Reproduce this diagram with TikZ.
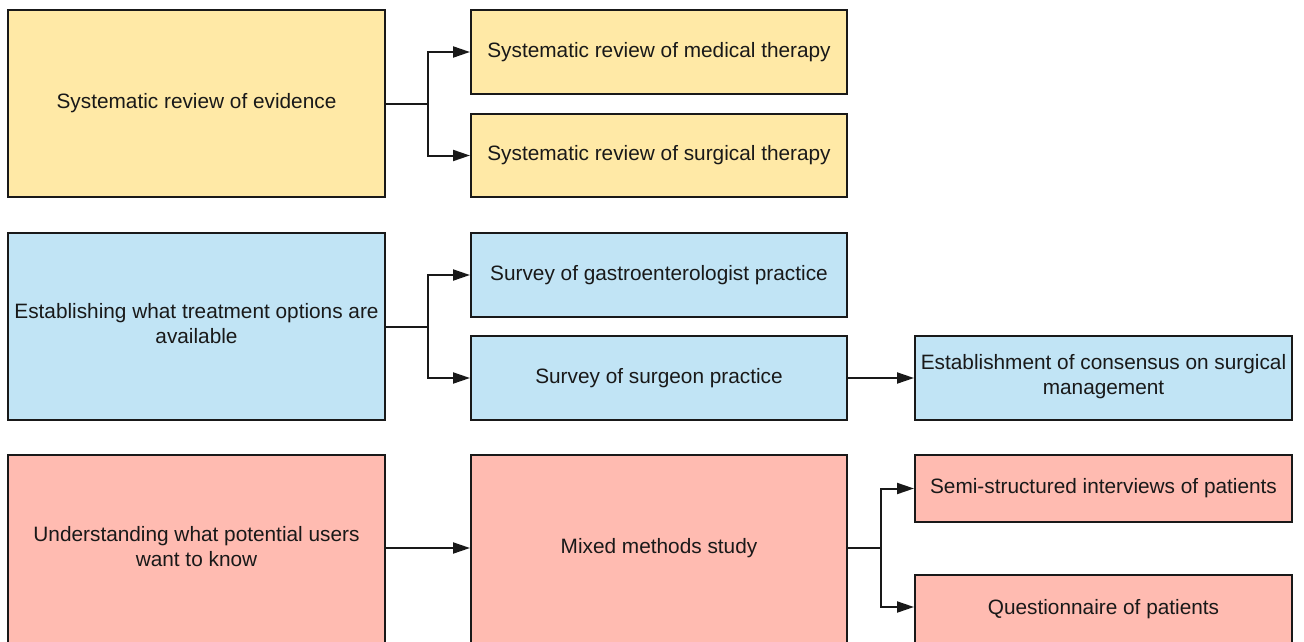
\documentclass[tikz,border=0pt]{standalone}
\usepackage{fontspec}
\setmainfont{Liberation Sans}
\usetikzlibrary{arrows.meta}
\definecolor{ylw}{RGB}{255,233,166}
\definecolor{blu}{RGB}{193,228,245}
\definecolor{rd}{RGB}{255,187,177}
\definecolor{txt}{RGB}{25,25,25}
\begin{document}
\begin{tikzpicture}[x=1pt,y=-1pt,
  lbl/.style={inner sep=0pt,align=center,text=txt,
    font=\fontsize{20.8}{25}\selectfont},
  box/.style={lbl,draw=black!90,line width=2pt},
  big/.style={box,minimum width=377pt,minimum height=187pt},
  mid/.style={box,minimum width=376pt,minimum height=83pt},
  conn/.style={draw=black!90,line width=2pt,-{Triangle[length=17pt,width=11pt]}}]
\useasboundingbox (0,0) rectangle (1304,642);
\clip (0,0) rectangle (1304,642);
% yellow
\node[big,fill=ylw] (yl) at (196.5,103.5) {Systematic review of evidence};
\node[mid,fill=ylw] (ym) at (659,52) {Systematic review of medical therapy};
\node[mid,fill=ylw] (ys) at (659,155.5) {Systematic review of surgical therapy};
% blue
\node[big,fill=blu] (bl) at (196.5,326.5) {};
\node[lbl] (bltext) at (196.5,324) {Establishing what treatment options are\\available};
\node[mid,fill=blu,minimum height=84pt] (bg) at (659,275) {Survey of gastroenterologist practice};
\node[mid,fill=blu,minimum height=84pt] (bs) at (659,378) {Survey of surgeon practice};
\node[mid,fill=blu,minimum width=377pt,minimum height=84pt] (bc) at (1103.5,378) {};
\node[lbl] (bctext) at (1103.5,377) {Establishment of consensus on surgical\\management};
% red
\node[big,fill=rd,minimum height=190pt] (rl) at (196.5,550) {};
\node[lbl] (rltext) at (196.5,547) {Understanding what potential users\\want to know};
\node[mid,fill=rd,minimum height=190pt] (rm) at (659,550) {};
\node[lbl] (rmtext) at (659,548.5) {Mixed methods study};
\node[mid,fill=rd,minimum width=377pt,minimum height=67pt] (rs) at (1103.5,488.5) {Semi-structured interviews of patients};
\node[mid,fill=rd,minimum width=377pt,minimum height=70pt] (rq) at (1103.5,610) {};
\node[lbl] (rqtext) at (1103.5,609) {Questionnaire of patients};
% connectors
\coordinate (j1) at (428,103.5);
\draw[conn] (yl.east |- j1) -- (j1) |- (ym.west);
\draw[conn] (j1) |- (ys.west);
\coordinate (j2) at (428,326.5);
\draw[conn] (bl.east |- j2) -- (j2) |- (bg.west);
\draw[conn] (j2) |- (bs.west);
\draw[conn] (bs.east) -- (bc.west);
\coordinate (j3) at (881,548);
\draw[conn] (rl.east |- j3) -- (rm.west |- j3);
\draw[conn] (rm.east |- j3) -- (j3) |- (rq.west |- 0,607);
\draw[conn] (j3) |- (rs.west);
\end{tikzpicture}
\end{document}
